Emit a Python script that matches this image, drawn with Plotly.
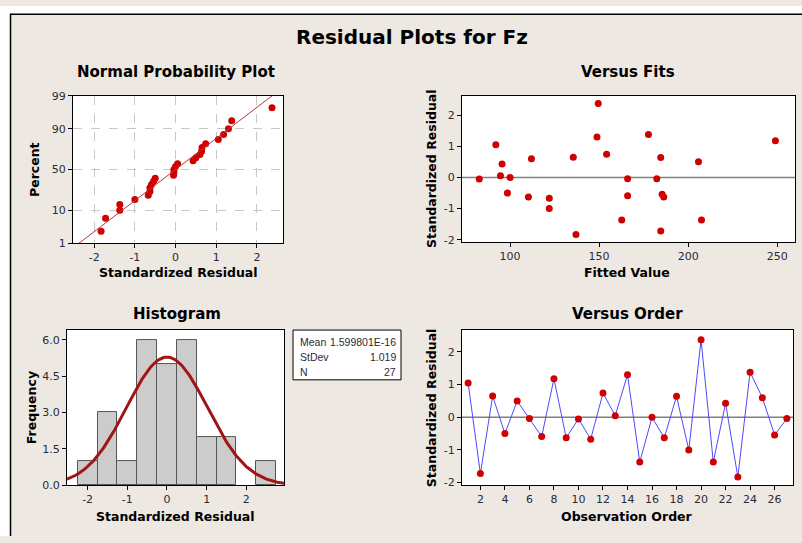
import plotly.graph_objects as go
from statistics import NormalDist

# ---------------- data ----------------
observation = list(range(1, 28))
residuals = [1.05, -1.72, 0.65, -0.50, 0.50, -0.04, -0.59, 1.18, -0.63, -0.05,
             -0.67, 0.74, 0.05, 1.30, -1.37, 0.00, -0.63, 0.64, -1.00, 2.37,
             -1.37, 0.43, -1.83, 1.38, 0.60, -0.54, -0.04]
fitted = [92.0, 184.6, 135.5, 98.5, 205.8, 166.0, 166.0, 249.0, 186.3, 82.7,
          122.0, 154.2, 94.6, 148.8, 162.7, 100.0, 110.3, 184.6, 122.0, 149.5,
          207.5, 95.5, 137.0, 177.7, 112.0, 185.4, 182.4]
prob_ticks = [1, 10, 50, 90, 99]
resid_ticks = [-2, -1, 0, 1, 2]
fits_ticks = [100, 150, 200, 250]
freq_ticks = [0.0, 1.5, 3.0, 4.5, 6.0]
order_ticks = list(range(2, 27, 2))
hist_stats_labels = ["Mean", "StDev", "N"]
hist_stats_values = ["1.599801E-16", "1.019", "27"]
fit_mean = 0.0
fit_sd = 1.019
n_obs = 27
bin_width = 0.5

W, H = 802, 543
def px(x):
    return x / W
def py(y):
    return 1 - y / H

nd = NormalDist()
BG = "#ede8e2"
TXT = "#2a2a3a"
FONT = "DejaVu Sans"

fig = go.Figure()

# ---- normal probability plot ----
srt = sorted(residuals)
n = len(srt)
pct_z = [nd.inv_cdf((i + 1 - 0.3) / (n + 0.4)) for i in range(n)]
fig.add_trace(go.Scatter(x=srt, y=pct_z, mode="markers",
                         marker=dict(color="#d00000", size=7),
                         xaxis="x", yaxis="y", showlegend=False))
zlo, zhi = nd.inv_cdf(0.01), nd.inv_cdf(0.99)
line_z = [zlo - 0.3, zhi + 0.3]
line_x = [fit_mean + fit_sd * z for z in line_z]
fig.add_trace(go.Scatter(x=line_x, y=line_z, mode="lines",
                         line=dict(color="#b03a3a", width=1),
                         xaxis="x", yaxis="y", showlegend=False))

# ---- versus fits ----
fig.add_trace(go.Scatter(x=fitted, y=residuals, mode="markers",
                         marker=dict(color="#d00000", size=7),
                         xaxis="x2", yaxis="y2", showlegend=False))

# ---- histogram ----
fig.add_trace(go.Histogram(x=residuals,
                           xbins=dict(start=-2.25, end=2.75, size=bin_width),
                           marker=dict(color="#cccccc", line=dict(color="#555555", width=1)),
                           xaxis="x3", yaxis="y3", showlegend=False))
cx = [-2.52 + i * (2.95 + 2.52) / 200 for i in range(201)]
cy = [n_obs * bin_width * NormalDist(fit_mean, fit_sd).pdf(v) for v in cx]
fig.add_trace(go.Scatter(x=cx, y=cy, mode="lines",
                         line=dict(color="#a01515", width=3),
                         xaxis="x3", yaxis="y3", showlegend=False))

# ---- versus order ----
fig.add_trace(go.Scatter(x=observation, y=residuals, mode="lines+markers",
                         line=dict(color="#4a4aff", width=1),
                         marker=dict(color="#d00000", size=7),
                         xaxis="x4", yaxis="y4", showlegend=False))

ax_common = dict(showline=True, mirror=True, linecolor="#000000", linewidth=1,
                 ticks="outside", ticklen=4, tickcolor="#000000",
                 tickfont=dict(family=FONT, size=11, color=TXT),
                 zeroline=False, showgrid=False, fixedrange=True)

def lbl(vals, fmt="{:g}"):
    return [fmt.format(v) for v in vals]

layout = dict(
    width=W, height=H, margin=dict(l=0, r=0, t=0, b=0),
    paper_bgcolor=BG, plot_bgcolor="#ffffff",
    bargap=0, showlegend=False,
    xaxis=dict(ax_common, domain=[px(73), px(283)], anchor="y", range=[-2.52, 2.64],
               tickvals=resid_ticks, ticktext=lbl(resid_ticks),
               showgrid=True, gridcolor="#c8c8c8", griddash="dash"),
    yaxis=dict(ax_common, domain=[py(243), py(92)], anchor="x", range=[zlo, zhi],
               tickvals=[nd.inv_cdf(p / 100) for p in prob_ticks],
               ticktext=lbl(prob_ticks),
               showgrid=True, gridcolor="#c8c8c8", griddash="dash"),
    xaxis2=dict(ax_common, domain=[px(462), px(795)], anchor="y2", range=[73, 260],
                tickvals=fits_ticks, ticktext=lbl(fits_ticks)),
    yaxis2=dict(ax_common, domain=[py(242), py(92)], anchor="x2", range=[-2.08, 2.62],
                tickvals=resid_ticks, ticktext=lbl(resid_ticks)),
    xaxis3=dict(ax_common, domain=[px(67), px(284)], anchor="y3", range=[-2.52, 2.95],
                tickvals=resid_ticks, ticktext=lbl(resid_ticks)),
    yaxis3=dict(ax_common, domain=[py(491), py(332)], anchor="x3", range=[0, 6.4],
                tickvals=freq_ticks, ticktext=lbl(freq_ticks, "{:.1f}")),
    xaxis4=dict(ax_common, domain=[px(462), px(793)], anchor="y4", range=[0.5, 27.5],
                tickvals=order_ticks, ticktext=lbl(order_ticks)),
    yaxis4=dict(ax_common, domain=[py(491), py(332)], anchor="x4", range=[-2.08, 2.67],
                tickvals=resid_ticks, ticktext=lbl(resid_ticks)),
)
fig.update_layout(**layout)

shapes = [
    # white outer strips and frame lines (top and left)
    dict(type="rect", xref="paper", yref="paper", x0=0, x1=1, y0=py(8), y1=1,
         fillcolor="#ffffff", line=dict(width=0)),
    dict(type="rect", xref="paper", yref="paper", x0=0, x1=px(10), y0=0, y1=1,
         fillcolor="#ffffff", line=dict(width=0)),
    dict(type="line", xref="paper", yref="paper", x0=px(10), x1=1, y0=py(8.5), y1=py(8.5),
         line=dict(color="#000000", width=1.5)),
    dict(type="line", xref="paper", yref="paper", x0=px(10.5), x1=px(10.5), y0=0, y1=py(8),
         line=dict(color="#000000", width=1.5)),
    # zero reference lines
    dict(type="line", xref="x2 domain", yref="y2", x0=0, x1=1, y0=0, y1=0,
         line=dict(color="#808080", width=1.5), layer="below"),
    dict(type="line", xref="x4 domain", yref="y4", x0=0, x1=1, y0=0, y1=0,
         line=dict(color="#808080", width=1.5), layer="below"),
    # stats box
    dict(type="rect", xref="paper", yref="paper", x0=px(293), x1=px(401), y0=py(383), y1=py(332),
         fillcolor="#ffffff", line=dict(color="#000000", width=1)),
]
fig.update_layout(shapes=shapes)

ann = []
def text(x, y, s, size, bold=False, angle=0, xanchor="center", color="#000000", family=FONT):
    ann.append(dict(xref="paper", yref="paper", x=px(x), y=py(y), text=("<b>%s</b>" % s) if bold else s,
                    showarrow=False, xanchor=xanchor, yanchor="middle", textangle=angle,
                    font=dict(family=family, size=size, color=color)))

text(412, 32, "Residual Plots for Fz", 20, bold=True)
text(176, 68, "Normal Probability Plot", 15, bold=True)
text(628, 68, "Versus Fits", 15, bold=True)
text(177, 316, "Histogram", 15, bold=True)
text(627, 316, "Versus Order", 15, bold=True)
text(178, 273, "Standardized Residual", 12.5, bold=True)
text(627, 273, "Fitted Value", 12.5, bold=True)
text(175, 523, "Standardized Residual", 12.5, bold=True)
text(627, 523, "Observation Order", 12.5, bold=True)
text(35, 168, "Percent", 12.5, bold=True, angle=-90)
text(431, 167, "Standardized Residual", 12.5, bold=True, angle=-90)
text(31, 412, "Frequency", 12.5, bold=True, angle=-90)
text(431, 412, "Standardized Residual", 12.5, bold=True, angle=-90)

rows_y = [344, 360, 375]
for lab, val, yy in zip(hist_stats_labels, hist_stats_values, rows_y):
    text(298, yy, lab, 10.5, xanchor="left", color=TXT, family="Liberation Sans")
    text(398, yy, val, 10.5, xanchor="right", color=TXT, family="Liberation Sans")

fig.update_layout(annotations=ann)
# remove the default page margin so the 802x543 figure fills the window exactly
fig.write_html("out.html",
               config={"displayModeBar": False},
               post_script="document.body.style.margin='0';"
                           "document.documentElement.style.overflow='hidden';")
